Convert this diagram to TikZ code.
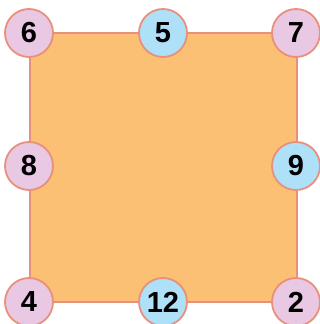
\documentclass[tikz,border=0pt]{standalone}
\usepackage{fontspec}
\setmainfont{Liberation Sans}
\definecolor{sqfill}{HTML}{FBC073}
\definecolor{edgecol}{HTML}{E8907C}
\definecolor{pinkfill}{HTML}{E8C8E3}
\definecolor{bluefill}{HTML}{AEE0F8}
\tikzset{
  vtx/.style={circle, draw=edgecol, line width=1.8pt, minimum size=48pt, inner sep=0pt,
    font=\fontsize{29}{29}\selectfont\bfseries},
  pinkv/.style={vtx, fill=pinkfill},
  bluev/.style={vtx, fill=bluefill},
}
\begin{document}
\begin{tikzpicture}[x=1pt,y=1pt]
\useasboundingbox (0,0) rectangle (320,324);
\fill[sqfill] (30,22) rectangle (297,291);
\draw[edgecol, line width=1.4pt] (30,22) rectangle (297,291);
\node[pinkv] (n6) at (29,291) {6};
\node[bluev] (n5) at (163,291) {5};
\node[pinkv] (n7) at (296,291) {7};
\node[pinkv] (n8) at (29,158) {8};
\node[bluev] (n9) at (296,158) {9};
\node[pinkv] (n4) at (29,22) {4};
\node[bluev] (n12) at (163,22) {12};
\node[pinkv] (n2) at (296,22) {2};
\end{tikzpicture}
\end{document}
